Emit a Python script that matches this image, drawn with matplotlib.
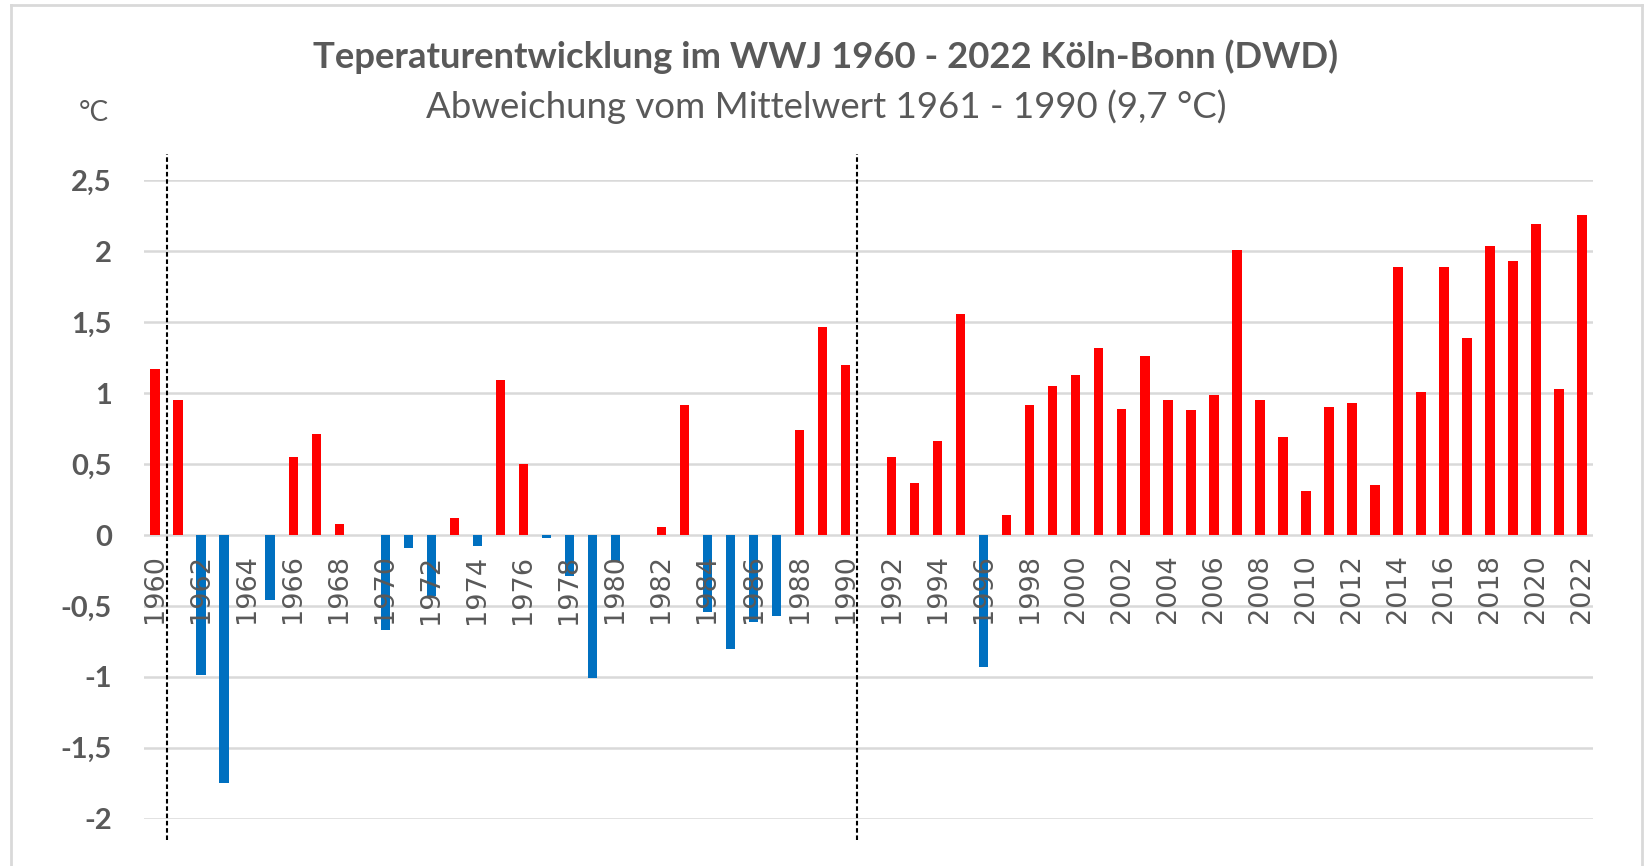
import numpy as np
import matplotlib.pyplot as plt
from matplotlib.lines import Line2D
import matplotlib.transforms as mtransforms

# Temperaturabweichung vom Mittel 1961-1990 (9,7 °C), Koeln-Bonn, DWD
years = list(range(1960, 2023))
anomaly = [1.17, 0.95, -0.99, -1.75, 0.0, -0.46, 0.55, 0.71, 0.08, 0.0,
           -0.67, -0.09, -0.43, 0.12, -0.08, 1.09, 0.50, -0.02, -0.29, -1.01,
           -0.18, 0.0, 0.06, 0.92, -0.54, -0.80, -0.61, -0.57, 0.74, 1.47,
           1.20, 0.0, 0.55, 0.37, 0.66, 1.56, -0.93, 0.14, 0.92, 1.05,
           1.13, 1.32, 0.89, 1.26, 0.95, 0.88, 0.99, 2.01, 0.95, 0.69,
           0.31, 0.90, 0.93, 0.35, 1.89, 1.01, 1.89, 1.39, 2.04, 1.93,
           2.19, 1.03, 2.26]
yticks = [-2, -1.5, -1, -0.5, 0, 0.5, 1, 1.5, 2, 2.5]
ytick_labels = ['-2', '-1,5', '-1', '-0,5', '0', '0,5', '1', '1,5', '2', '2,5']
ref_years = [1960.5, 1990.5]

title = 'Teperaturentwicklung im WWJ 1960 - 2022 Köln-Bonn (DWD)'
subtitle = 'Abweichung vom Mittelwert 1961 - 1990 (9,7 °C)'

grey = '#595959'
red = '#FF0000'
blue = '#0070C0'

fig = plt.figure(figsize=(16.45, 8.66), dpi=100)
ax = fig.add_axes([0.0874, 0.0546, 0.8812, 0.737])

x = np.arange(len(years))
vals = np.array(anomaly)
colors = [red if v > 0 else blue for v in vals]
ax.bar(x, vals, width=0.42, color=colors, zorder=1)

# gridlines by hand so the year labels can sit above the bars
for yt in yticks:
    ax.axhline(yt, color='#D9D9D9', linewidth=1.8, zorder=0.5)

# year labels sit on the zero line (set spine first, it resets the ticks)
ax.spines['bottom'].set_position(('data', 0))
for s in ax.spines.values():
    s.set_visible(False)

ax.set_xlim(-0.5, len(years) - 0.5)
ax.set_ylim(-2, 2.5)
ax.set_yticks(yticks)
ax.set_yticklabels(ytick_labels, fontfamily='Lato', fontweight='bold',
                   fontsize=21, color=grey)
ax.tick_params(axis='y', length=0, pad=23)

ax.set_xticks(x[::2])
ax.set_xticklabels([str(y) for y in years[::2]], rotation=90,
                   fontfamily='DejaVu Sans', fontsize=19.5, color=grey)
ax.tick_params(axis='x', length=0, pad=14)
ax.set_axisbelow(False)

# dashed markers for the reference period
trans = mtransforms.blended_transform_factory(ax.transData, ax.transAxes)
for ry in ref_years:
    xpos = ry - years[0]
    ax.plot([xpos, xpos], [-0.033, 1.041], transform=trans, color='black',
            linewidth=1.5, linestyle=(0, (2.2, 1.3)), clip_on=False, zorder=4)

fig.text(0.502, 0.935, title, ha='center', va='center', fontfamily='Lato',
         fontweight='bold', fontsize=26.3, color=grey)
fig.text(0.502, 0.877, subtitle, ha='center', va='center', fontfamily='Lato',
         fontsize=26.4, color=grey)
fig.text(0.0568, 0.870, '°C', ha='center', va='center', fontfamily='Lato',
         fontsize=20, color=grey)

# chart frame
frame = dict(color='#D9D9D9', linewidth=2, transform=fig.transFigure)
fig.add_artist(Line2D([0.0065, 0.0065], [0.0, 0.9942], **frame))
fig.add_artist(Line2D([0.998, 0.998], [0.0, 0.9942], **frame))
fig.add_artist(Line2D([0.0065, 0.998], [0.9942, 0.9942], **frame))

fig.savefig('out.png', dpi=100)
